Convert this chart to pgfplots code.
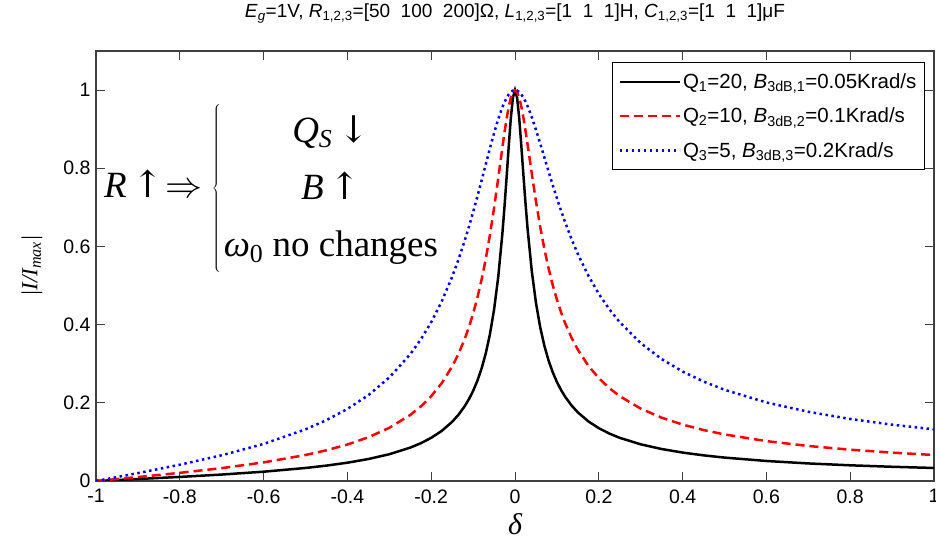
\RequirePackage{fix-cm}
\documentclass[border=0pt]{standalone}
\usepackage{fontspec}
\setmainfont{Liberation Sans}
\newfontfamily\tms{Liberation Serif}
\newfontfamily\dvs{DejaVu Serif}
\usepackage{pgfplots}
\usepackage{pgfplotstable}
\pgfplotsset{compat=1.18}

\pgfplotstableread{
d q20 q10 q5
-1 0 0 0
-0.95 0.002506 0.005012 0.010025
-0.9 0.00505 0.010101 0.020198
-0.8 0.010416 0.020829 0.041631
-0.7 0.016481 0.032949 0.065791
-0.6 0.023803 0.047565 0.094809
-0.5 0.033315 0.066519 0.13216
-0.45 0.039396 0.078609 0.15578
-0.4 0.046824 0.093341 0.18429
-0.35 0.056188 0.11185 0.21961
-0.3 0.068466 0.13598 0.26472
-0.25 0.085401 0.16896 0.32432
-0.225 0.096572 0.19050 0.36182
-0.2 0.110432 0.21693 0.40614
-0.175 0.128095 0.25011 0.45900
-0.15 0.151389 0.29288 0.52238
-0.135 0.169300 0.32492 0.56632
-0.12 0.19143 0.36340 0.61511
-0.11 0.20930 0.39354 0.65037
-0.1 0.23047 0.42809 0.68774
-0.09 0.25588 0.46786 0.72699
-0.08 0.28689 0.51383 0.76767
-0.07 0.32545 0.56702 0.80909
-0.06 0.37441 0.62827 0.85022
-0.05 0.43798 0.69787 0.88970
-0.04 0.52215 0.77452 0.92579
-0.03 0.63436 0.85397 0.95660
-0.025 0.70259 0.89213 0.96940
-0.02 0.77774 0.92716 0.98020
-0.015 0.85577 0.95722 0.98877
-0.01 0.92783 0.98039 0.99499
-0.005 0.98049 0.99501 0.99875
0 1 1 1
0.005 0.98067 0.99506 0.99876
0.01 0.92911 0.98077 0.99509
0.015 0.85917 0.95840 0.98912
0.02 0.78386 0.92973 0.98095
0.025 0.71143 0.89660 0.97084
0.03 0.64572 0.86079 0.95898
0.04 0.53741 0.78673 0.93093
0.05 0.45588 0.71558 0.89867
0.06 0.39410 0.65099 0.86390
0.07 0.34637 0.59403 0.82804
0.08 0.30867 0.54442 0.79218
0.09 0.27829 0.50138 0.75712
0.1 0.25336 0.46401 0.72336
0.11 0.23256 0.43144 0.69121
0.12 0.21498 0.40293 0.66083
0.135 0.19319 0.36640 0.61873
0.15 0.17553 0.33587 0.58064
0.175 0.15255 0.29497 0.52535
0.2 0.13511 0.26312 0.47885
0.225 0.12144 0.23768 0.43957
0.25 0.110432 0.21693 0.40614
0.3 0.093787 0.18515 0.35261
0.35 0.081792 0.16197 0.31189
0.4 0.072723 0.14431 0.28000
0.45 0.065618 0.13040 0.25438
0.5 0.059892 0.11915 0.23337
0.6 0.051214 0.10203 0.20094
0.7 0.044928 0.089586 0.17705
0.8 0.040146 0.080099 0.15868
0.9 0.036375 0.072605 0.14408
1 0.033315 0.066519 0.13216
}\datatable

\begin{document}
\begin{tikzpicture}
\useasboundingbox (-96pt,-59pt) rectangle (840pt,481pt);
\begin{axis}[
  scale only axis,
  width=838pt, height=430pt,
  xmin=-1, xmax=1, ymin=0, ymax=1.1,
  xtick={-1,-0.8,...,1.01},
  ytick={0,0.2,...,1.01},
  /pgf/number format/assume math mode=true,
  /pgf/number format/fixed,
  /pgf/number format/precision=1,
  tick label style={font=\fontsize{19.5}{23}\selectfont},
  xticklabel style={yshift=-5pt},
  yticklabel style={xshift=-2pt},
  major tick length=9pt,
  tick align=inside,
  axis line style={line width=1.2pt, draw=black!75},
  tick style={line width=1pt, black!75},
  title={\textit{E}\textsubscript{\textit{g}}=1V, \textit{R}\textsubscript{1,2,3}=[50\ \ 100\ \ 200]Ω, \textit{L}\textsubscript{1,2,3}=[1\ \ 1\ \ 1]H, \textit{C}\textsubscript{1,2,3}=[1\ \ 1\ \ 1]μF},
  title style={font=\fontsize{19}{23}\selectfont, at={(axis description cs:0.5,1)}, anchor=base, yshift=27pt},
  xlabel={\tms\itshape δ},
  xlabel style={font=\fontsize{30}{34}\selectfont, at={(axis description cs:0.5,-0.1)}, anchor=center},
  ylabel={\tms\itshape |I/I\textsubscript{max}|},
  ylabel style={font=\fontsize{23}{27}\selectfont, at={(axis description cs:-0.0764,0.5)}, anchor=center},
  legend cell align=left,
  legend style={at={(axis description cs:1,1)}, anchor=north east, xshift=-9pt, yshift=-11pt,
    draw=black, line width=1.2pt, font=\fontsize{20.5}{24}\selectfont,
    row sep=14pt, inner xsep=6pt, inner ysep=9pt},
  legend image code/.code={\draw[#1] (0pt,0pt) -- (60pt,0pt);},
]
\addplot[black, line width=2.5pt] table[x=d, y=q20] {\datatable};
\addlegendentry{Q\textsubscript{1}=20, \textit{B}\textsubscript{3dB,1}=0.05Krad/s}
\addplot[red, line width=2.5pt, dash pattern=on 9pt off 5pt] table[x=d, y=q10] {\datatable};
\addlegendentry{Q\textsubscript{2}=10, \textit{B}\textsubscript{3dB,2}=0.1Krad/s}
\addplot[blue, line width=2.5pt, dash pattern=on 2.5pt off 3.5pt] table[x=d, y=q5] {\datatable};
\addlegendentry{Q\textsubscript{3}=5, \textit{B}\textsubscript{3dB,3}=0.2Krad/s}
\node[anchor=west, inner sep=0pt, font=\fontsize{37}{44}\selectfont\tms] at (axis cs:-0.981,0.749)
  {\textit{R}\,{\dvs ↑}\hspace{2pt}$\Rightarrow$\hspace{9pt}$\left\{\renewcommand\arraystretch{1.3}\begin{tabular}{@{\hspace{3pt}}c@{}}\textit{Q}\textsubscript{\textit{S}}\,{\dvs ↓}\\ \textit{B}\,{\dvs ↑}\\ \textit{ω}\textsubscript{0} no changes\end{tabular}\right.$};
\end{axis}
\end{tikzpicture}
\end{document}
